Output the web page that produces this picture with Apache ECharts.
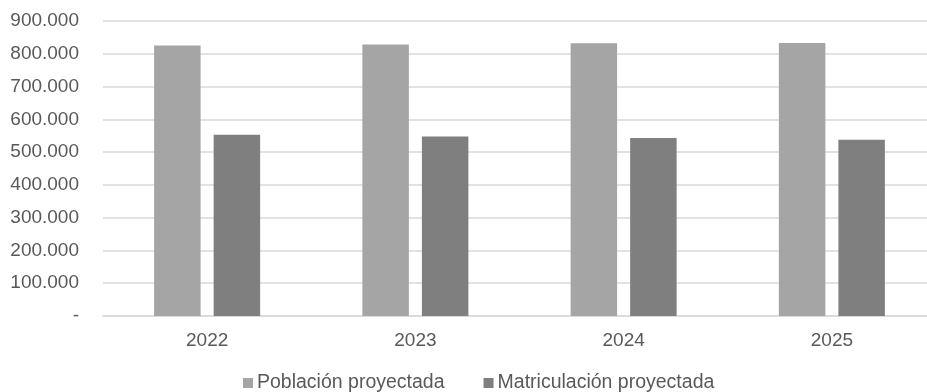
<!DOCTYPE html>
<html>
<head>
<meta charset="utf-8">
<script src="https://cdn.jsdelivr.net/npm/echarts@6/dist/echarts.min.js"></script>
<style>
  html, body { margin: 0; padding: 0; background: #ffffff; overflow: hidden; }
  /* the plot area continues a little past the right edge of the window */
  #chart { width: 936px; height: 392px; }
</style>
</head>
<body>
<div id="chart"></div>
<script>
// Years on the category axis
const years = ['2022', '2023', '2024', '2025'];
// Projected population and projected enrolment
const poblacion = [825000, 828000, 832000, 833000];
const matriculacion = [553000, 548000, 543000, 538000];
// Value axis ticks
const yMax = 900000;
const yStep = 100000;

const fontFamily = '"Liberation Sans", Arial, Helvetica, sans-serif';

// Thousands with a dot separator; zero shown as a dash
function formatTick(v) {
  if (v === 0) return '-';
  return String(v).replace(/\B(?=(\d{3})+(?!\d))/g, '.');
}

const chart = echarts.init(document.getElementById('chart'), null, { renderer: 'canvas' });
chart.setOption({
  animation: false,
  backgroundColor: '#ffffff',
  textStyle: { fontFamily: fontFamily },
  grid: { left: 103, right: 0, top: 21, bottom: 76, containLabel: false },
  legend: {
    top: 373,
    left: 243,
    padding: 0,
    itemWidth: 10,
    itemHeight: 10,
    itemGap: 39,
    icon: 'rect',
    textStyle: { fontSize: 19.5, color: '#595959', fontFamily: fontFamily, padding: [0, 0, 0, -1] },
    data: ['Población proyectada', 'Matriculación proyectada']
  },
  xAxis: {
    type: 'category',
    data: years,
    axisLine: { show: true, lineStyle: { color: '#d9d9d9', width: 1.5 } },
    axisTick: { show: false },
    axisLabel: { fontSize: 19, color: '#595959', margin: 15, fontFamily: fontFamily }
  },
  yAxis: {
    type: 'value',
    min: 0,
    max: yMax,
    interval: yStep,
    axisLine: { show: false },
    axisTick: { show: false },
    splitLine: { lineStyle: { color: '#d9d9d9', width: 1.5 } },
    axisLabel: { fontSize: 19, color: '#595959', margin: 24, formatter: formatTick, fontFamily: fontFamily }
  },
  series: [
    {
      name: 'Población proyectada',
      type: 'bar',
      data: poblacion,
      barWidth: 46.5,
      barGap: '28%',
      itemStyle: { color: '#a5a5a5' }
    },
    {
      name: 'Matriculación proyectada',
      type: 'bar',
      data: matriculacion,
      barWidth: 46.5,
      itemStyle: { color: '#7f7f7f' }
    }
  ]
});
</script>
</body>
</html>
